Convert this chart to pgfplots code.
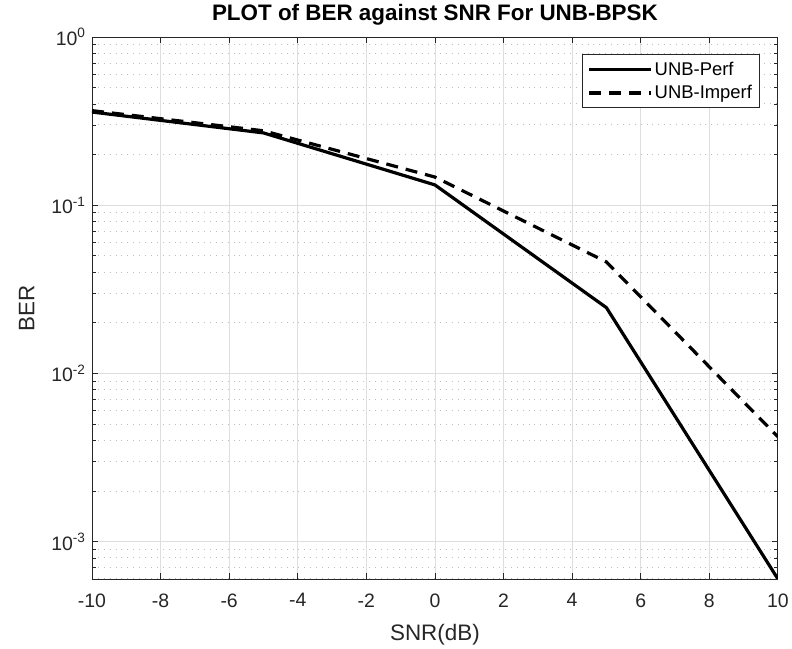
\documentclass[border=0pt]{standalone}
\usepackage{pgfplots}
\pgfplotsset{compat=1.18}
\usepackage{fontspec}
\setmainfont{Liberation Sans}
\definecolor{axgray}{RGB}{38,38,38}
\definecolor{gridgray}{RGB}{222,222,222}
\definecolor{mgridgray}{RGB}{190,190,190}
\begin{document}
\begin{tikzpicture}
\begin{axis}[
  scale only axis,
  width=686bp, height=542bp,
  xmin=-10, xmax=10,
  ymode=log, log basis y=10, ymin=6.0e-4, ymax=1,
  xtick={-10,-8,...,10},
  ytick={1e-3,1e-2,1e-1,1},
  minor ytick={2e-4,3e-4,4e-4,5e-4,6e-4,7e-4,8e-4,9e-4,
               2e-3,3e-3,4e-3,5e-3,6e-3,7e-3,8e-3,9e-3,
               2e-2,3e-2,4e-2,5e-2,6e-2,7e-2,8e-2,9e-2,
               0.2,0.3,0.4,0.5,0.6,0.7,0.8,0.9},
  xmajorgrids=true, ymajorgrids=true, yminorgrids=true,
  major grid style={gridgray, line width=0.8pt},
  minor grid style={mgridgray, line width=0.9pt, dash pattern=on 0.9bp off 5bp},
  axis line style={axgray, line width=0.8pt},
  tick style={axgray, line width=0.8pt},
  major tick length=6bp, minor tick length=4bp,
  tick align=inside,
  every tick label/.append style={font=\fontsize{19.5}{22}\selectfont, text=axgray},
  /pgf/number format/assume math mode=true,
  yticklabel={10\textsuperscript{\pgfmathprintnumber[int detect]{\tick}}},
  xticklabel style={yshift=-11bp},
  yticklabel style={xshift=-3bp},
  xlabel={SNR(dB)}, ylabel={BER},
  xlabel style={font=\fontsize{22.5}{25}\selectfont, text=axgray, yshift=-10bp},
  ylabel style={font=\fontsize{22.5}{25}\selectfont, text=axgray, yshift=10bp},
  title={PLOT of BER against SNR For UNB-BPSK},
  title style={font=\bfseries\fontsize{22.5}{25}\selectfont, text=black, at={(0.5,1)}, anchor=base, yshift=11bp},
  legend style={at={(0.973,0.968)}, anchor=north east, font=\fontsize{18.5}{21}\selectfont,
    draw=axgray, line width=0.8pt, inner xsep=5bp, inner ysep=5bp, row sep=5bp},
  legend cell align=left,
  legend image code/.code={\draw[#1] (0cm,0cm) -- (62bp,0cm);},
]
\addplot[black, line width=3.2bp] coordinates {
  (-10,0.358) (-5,0.269) (0,0.132) (5,0.0246) (10,6.0e-4)};
\addlegendentry{UNB-Perf}
\addplot[black, line width=3.2bp, dash pattern=on 12bp off 8bp] coordinates {
  (-10,0.365) (-5,0.277) (0,0.147) (5,0.046) (10,0.0042)};
\addlegendentry{UNB-Imperf}
\end{axis}
\path (current axis.south west) ++(-92bp,-69bp) coordinate (bl);
\path (current axis.north east) ++(14bp,37bp) coordinate (tr);
\useasboundingbox (bl) rectangle (tr);
\end{tikzpicture}
\end{document}
